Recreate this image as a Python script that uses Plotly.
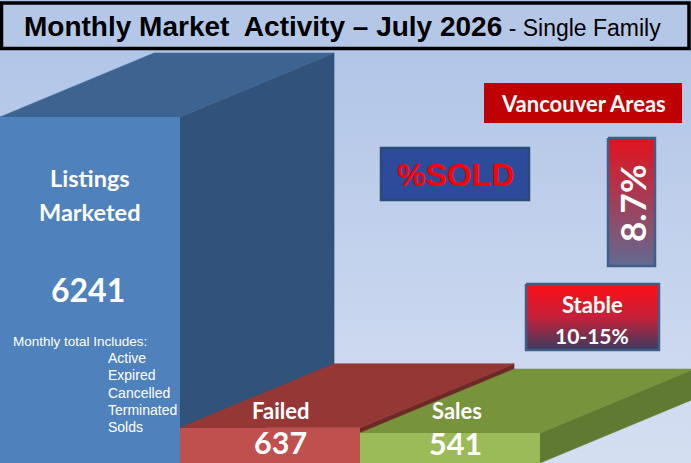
import plotly.graph_objects as go

# values
categories = ["Listings Marketed", "Failed", "Sales"]
counts = [6241, 637, 541]
sold_pct = "8.7%"
stable_label = "Stable"
stable_range = "10-15%"
includes = ["Active", "Expired", "Cancelled", "Terminated", "Solds"]
area = "Vancouver Areas"
month = "July 2026"

W, H = 691, 463
front = ["#4f81bd", "#c0504d", "#9bbb59"]
top = ["#3d6491", "#953735", "#77933c"]
side = ["#31527a", "#6e2826", "#617a32"]

# depth of the 3d look, in bar units / count units
dx, dy = 0.856, 1154
x_range = [-0.5, -0.5 + W / 180]
y_range = [0, 8350]

narrow = "Liberation Sans Narrow, Arial Narrow, Liberation Sans, sans-serif"
cal = "Lato, Open Sans, sans-serif"

fig = go.Figure()

# background gradient (pixel axis)
fig.add_trace(go.Scatter(
    x=[0, W, W, 0], y=[0, 0, H, H], mode="lines", fill="toself",
    line=dict(width=0), hoverinfo="skip", showlegend=False,
    fillgradient=dict(type="vertical", start=0, stop=H,
                      colorscale=[[0, "#adc2e6"], [1, "#d5dff2"]])))


def grad_box(x0, x1, y0, y1, c0, c1, cmid=None):
    cs = [[0, c0], [1, c1]]
    if cmid:
        cs = [[0, c0], [0.5, cmid], [1, c1]]
    fig.add_trace(go.Scatter(
        x=[x0, x1, x1, x0, x0], y=[y0, y0, y1, y1, y0], mode="lines",
        fill="toself", line=dict(color="#3e5f8a", width=2.5),
        hoverinfo="skip", showlegend=False,
        fillgradient=dict(type="vertical", start=y0, stop=y1, colorscale=cs)))


grad_box(608, 655, 138, 266, "#e3121e", "#616b93")
grad_box(526, 659, 284, 350, "#ff0d16", "#3b3b5e", "#c62039")

# top and side faces of the 3d bars
for i, v in enumerate(counts):
    l, r = i - 0.5, i + 0.5
    fig.add_trace(go.Scatter(
        x=[r, r + dx, r + dx, r, r], y=[v, v + dy, dy, 0, v],
        xaxis="x2", yaxis="y2", mode="lines", fill="toself",
        fillcolor=side[i], line=dict(width=0.5, color=side[i]),
        hoverinfo="skip", showlegend=False))
    fig.add_trace(go.Scatter(
        x=[l, r, r + dx, l + dx, l], y=[v, v, v + dy, v + dy, v],
        xaxis="x2", yaxis="y2", mode="lines", fill="toself",
        fillcolor=top[i], line=dict(width=0.5, color=top[i]),
        hoverinfo="skip", showlegend=False))

# front faces
fig.add_trace(go.Bar(
    x=list(range(len(counts))), y=counts, width=1,
    marker=dict(color=front, line=dict(width=0)),
    xaxis="x3", yaxis="y3", hoverinfo="skip", showlegend=False))

shapes = [
    dict(type="rect", xref="x", yref="y", x0=1.5, x1=689, y0=3, y1=48.5,
         fillcolor="#b4c7e7", line=dict(color="black", width=3.5)),
    dict(type="rect", xref="x", yref="y", x0=484, x1=682, y0=83, y1=123,
         fillcolor="#c00000", line=dict(width=0)),
    dict(type="rect", xref="x", yref="y", x0=381, x1=529, y0=148, y1=200,
         fillcolor="#2d4b9b", line=dict(color="#2a4a78", width=2.5)),
]


def ann(text, x, y, size, family=cal, color="white", xanchor="center",
        angle=0, bold=True):
    return dict(text=f"<b>{text}</b>" if bold else text, x=x, y=y,
                xref="x", yref="y", xanchor=xanchor, yanchor="middle",
                showarrow=False, textangle=angle,
                font=dict(family=family, size=size, color=color))


annotations = [
    dict(text="<b>Monthly Market\u00a0 Activity – " + month + "</b>"
              "<span style='font-size:23px'> - Single Family</span>",
         x=22, y=26, xref="x", yref="y", xanchor="left", yanchor="middle",
         showarrow=False, font=dict(family=narrow, size=28, color="black")),
    ann("Listings", 90, 178, 23.5),
    ann("Marketed", 90, 212, 23.5),
    ann(f"{counts[0]}", 88, 289, 32),
    ann("Monthly total Includes:", 11, 341, 13.5, family=narrow,
        xanchor="left", bold=False),
    ann("Failed", 280, 410, 22),
    ann(f"{counts[1]}", 280, 442, 30.5),
    ann("Sales", 457, 410, 22),
    ann(f"{counts[2]}", 455, 443, 30.5),
    ann(area, 583, 103, 22),
    ann("%SOLD", 455, 175, 32, family="Liberation Sans, Arial",
        color="#ff0000"),
    ann(sold_pct, 632, 203, 35, angle=-90),
    ann(stable_label, 592, 304, 22),
    ann(stable_range, 592, 335, 21),
]
for k, item in enumerate(includes):
    annotations.append(ann(item, 106, 358 + k * 17.3, 14, family=narrow,
                           xanchor="left", bold=False))

hidden = dict(visible=False, showgrid=False, zeroline=False)
fig.update_layout(
    width=W, height=H, margin=dict(l=0, r=0, t=0, b=0),
    paper_bgcolor="white", plot_bgcolor="rgba(0,0,0,0)",
    bargap=0, showlegend=False,
    xaxis=dict(range=[0, W], **hidden),
    yaxis=dict(range=[H, 0], **hidden),
    xaxis2=dict(range=x_range, overlaying="x", anchor="y2", **hidden),
    yaxis2=dict(range=y_range, overlaying="y", anchor="x2", **hidden),
    xaxis3=dict(range=x_range, overlaying="x", anchor="y3", **hidden),
    yaxis3=dict(range=y_range, overlaying="y", anchor="x3", **hidden),
    shapes=shapes, annotations=annotations,
)

fig.write_html("out.html", config={"displayModeBar": False},
               post_script="document.body.style.margin = '0';")
